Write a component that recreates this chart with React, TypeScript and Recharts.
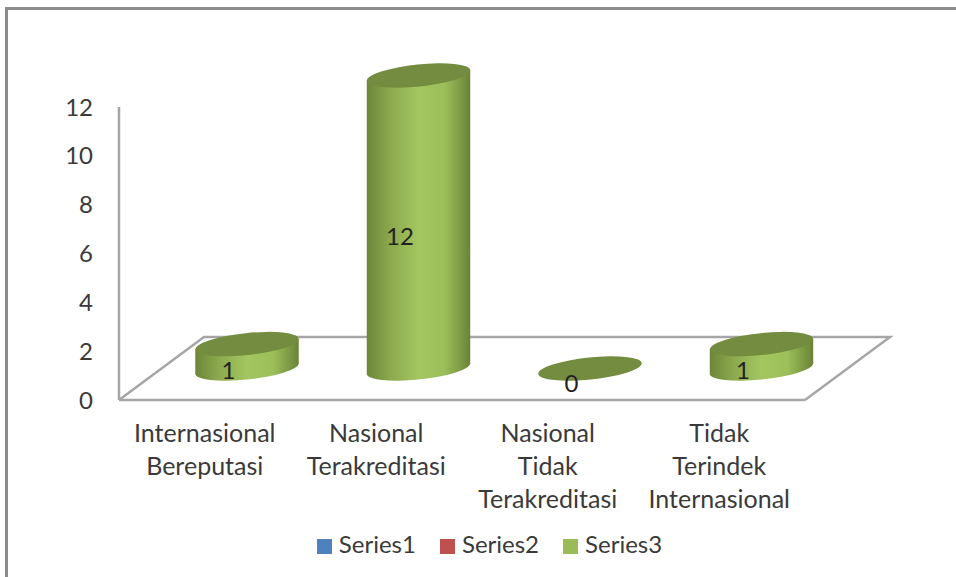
import { BarChart, Bar, XAxis, YAxis, Legend, LabelList, usePlotArea } from "recharts"

const CATEGORIES = ["Internasional Bereputasi", "Nasional Terakreditasi", "Nasional Tidak Terakreditasi", "Tidak Terindek Internasional"]
const SERIES1 = [0, 0, 0, 0]
const SERIES2 = [0, 0, 0, 0]
const SERIES3 = [1, 12, 0, 1]
const Y_TICKS = [0, 2, 4, 6, 8, 10, 12]

const FONT = "Lato, sans-serif"
const TEXT = "#3a3a3a"
const AXIS = "#a6a6a6"

// floor of the fake 3d box, bars stand half way back
const DEPTH_X = 85
const DEPTH_Y = 63
const RX = 52
const RY = 11
const TILT = -6

const data = CATEGORIES.map((name, i) => ({
  name,
  Series1: SERIES1[i],
  Series2: SERIES2[i],
  Series3: SERIES3[i],
}))

function Floor() {
  const plot = usePlotArea()
  if (!plot) return null
  const { x, y, width, height } = plot
  const b = y + height
  const pts = `${x},${b} ${x + DEPTH_X},${b - DEPTH_Y} ${x + width + DEPTH_X},${b - DEPTH_Y} ${x + width},${b}`
  return <polyline points={pts} fill="none" stroke={AXIS} strokeWidth={2.5} />
}

function Cylinder(props: any) {
  const { x, y, width, height } = props
  const cx = x + width / 2 + DEPTH_X / 2
  const top = y - DEPTH_Y / 2
  const base = y + height - DEPTH_Y / 2
  const rot = `rotate(${TILT} ${cx} ${top})`
  const th = (TILT * Math.PI) / 180
  const t = Math.atan((-RY / RX) * Math.tan(th))
  const ex = RX * Math.cos(t) * Math.cos(th) - RY * Math.sin(t) * Math.sin(th)
  const ey = RX * Math.cos(t) * Math.sin(th) + RY * Math.sin(t) * Math.cos(th)
  const body = `M${cx - ex},${top - ey} L${cx - ex},${base - ey} A${RX},${RY} ${TILT} 0 0 ${cx + ex},${base + ey} L${cx + ex},${top + ey} Z`
  return (
    <g>
      {height > 0.5 && <path d={body} fill="url(#cylBody)" />}
      <ellipse cx={cx} cy={top} rx={RX} ry={RY} transform={rot} fill="#748c3f" />
    </g>
  )
}

function BarLabel(props: any) {
  const { x, y, width, height, value } = props
  return (
    <text x={x + width / 2 + 24} y={y + height / 2 - 18} textAnchor="middle" dominantBaseline="central"
      fontFamily={FONT} fontSize={24} fill="#222">
      {value}
    </text>
  )
}

function CategoryTick({ x, y, payload }: any) {
  return (
    <text x={x} y={y} textAnchor="middle" fontFamily={FONT} fontSize={25} fill={TEXT}>
      {payload.value.split(" ").map((w: string, i: number) => (
        <tspan key={i} x={x} dy={i === 0 ? 0 : 33}>{w}</tspan>
      ))}
    </text>
  )
}

export default function App() {
  return (
    <div style={{ position: "absolute", left: 0, top: 0, width: 956, height: 577, background: "#fff", overflow: "hidden" }}>
      <div style={{ position: "absolute", left: 5, top: 7, width: 960, height: 600, borderTop: "3px solid #8c8c8c", borderLeft: "3px solid #8c8c8c" }} />
      <div style={{ position: "absolute", left: 0, top: 0 }}>
        <BarChart width={956} height={577} data={data} margin={{ top: 107, right: 151, left: 0, bottom: 0 }}>
          <defs>
            <linearGradient id="cylBody" x1="0" y1="0" x2="1" y2="0">
              <stop offset="0%" stopColor="#6d8639" />
              <stop offset="22%" stopColor="#8ba84d" />
              <stop offset="50%" stopColor="#a3c660" />
              <stop offset="75%" stopColor="#9dbf5a" />
              <stop offset="100%" stopColor="#6a8337" />
            </linearGradient>
          </defs>
          <Floor />
          <XAxis dataKey="name" height={130} interval={0} tickLine={false} tickSize={0} tickMargin={42}
            axisLine={{ stroke: AXIS, strokeWidth: 2.5 }} tick={<CategoryTick />} />
          <YAxis width={119} domain={[0, 12]} ticks={Y_TICKS} tickLine={false} tickSize={0} tickMargin={26}
            axisLine={{ stroke: AXIS, strokeWidth: 2.5 }}
            tick={{ fontFamily: FONT, fontSize: 24, fill: TEXT }} />
          <Legend height={47} iconType="square" iconSize={15}
            wrapperStyle={{ top: 529, left: 99, fontFamily: FONT, fontSize: 24 }}
            formatter={(v) => <span style={{ color: TEXT, marginLeft: 3, marginRight: 14 }}>{v}</span>} />
          <Bar dataKey="Series1" stackId="a" barSize={103} fill="#4f81bd" shape={() => null} isAnimationActive={false} />
          <Bar dataKey="Series2" stackId="a" barSize={103} fill="#c0504d" shape={() => null} isAnimationActive={false} />
          <Bar dataKey="Series3" stackId="a" barSize={103} fill="#9bbb59" shape={<Cylinder />} isAnimationActive={false}>
            <LabelList dataKey="Series3" content={<BarLabel />} />
          </Bar>
        </BarChart>
      </div>
    </div>
  )
}
